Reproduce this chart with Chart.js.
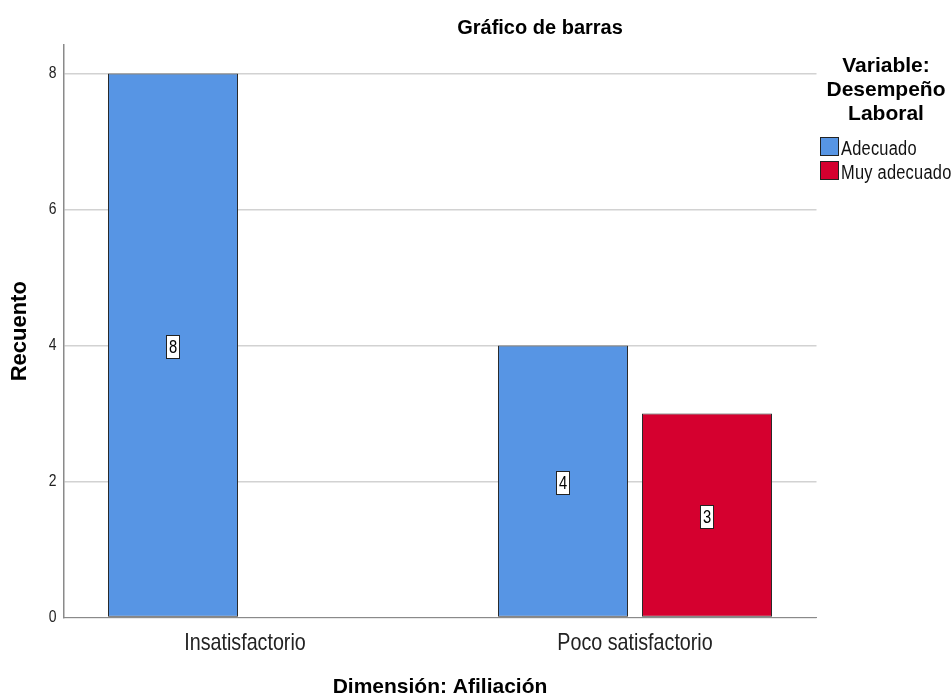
<!DOCTYPE html>
<html><head><meta charset="utf-8">
<script src="https://cdn.jsdelivr.net/npm/chart.js@4.4.1/dist/chart.umd.min.js"></script>
<style>
html,body{margin:0;padding:0;background:#fff;}
#wrap{position:relative;width:952px;height:698px;overflow:hidden;}
#title{position:absolute;left:390px;width:300px;top:15px;text-align:center;font:bold 20px/24px 'Liberation Sans',Arial,sans-serif;color:#000;}
.lt{position:absolute;left:806px;width:160px;top:53px;text-align:center;font:bold 21px/24px 'Liberation Sans',Arial,sans-serif;color:#000;}
.li{position:absolute;left:820px;height:24px;width:140px;font:20px/24px 'Liberation Sans',Arial,sans-serif;white-space:nowrap;color:#111;}
.li .sw{position:absolute;left:0;top:1px;width:17px;height:17px;border:1px solid #222;}
.li span{position:absolute;left:21px;top:0;transform:scaleX(0.82);transform-origin:0 0;letter-spacing:0.3px;}
</style></head><body>
<div id="wrap"><canvas id="c" width="952" height="698"></canvas><div id="title"></div><div id="legend"></div></div>
<script>
const chartTitle = 'Gráfico de barras';
const categories = ['Insatisfactorio', 'Poco satisfactorio'];
const seriesNames = ['Adecuado', 'Muy adecuado'];
const adecuado = [8, 4];
const muyAdecuado = [null, 3];
const yTicks = [0, 2, 4, 6, 8];
const legendTitle = ['Variable:', 'Desempeño', 'Laboral'];
const xTitle = 'Dimensión: Afiliación';
const yTitle = 'Recuento';
const colors = ['#5795e4', '#d5002f'];

// condensed text: drawn with Liberation Sans, squeezed horizontally (SPSS narrow look)
const NARROW = "'Liberation Sans', narrowfx";
const BOLD = "'Liberation Sans',Arial,sans-serif";
const SQUEEZE = 0.82;

document.getElementById('title').textContent = chartTitle;
const lg = document.getElementById('legend');
const lt = document.createElement('div'); lt.className = 'lt';
lt.innerHTML = legendTitle.map(s => '<div>' + s + '</div>').join('');
lg.appendChild(lt);
seriesNames.forEach((n, i) => {
  const row = document.createElement('div'); row.className = 'li';
  row.style.top = (136 + i * 24) + 'px';
  const sw = document.createElement('div'); sw.className = 'sw'; sw.style.background = colors[i];
  const sp = document.createElement('span'); sp.textContent = n;
  row.appendChild(sw); row.appendChild(sp); lg.appendChild(row);
});

const seriesValues = [adecuado, muyAdecuado];
const datasets = seriesNames.map((n, si) => ({
  label: n,
  data: categories.map((c, i) => ({ x: i, y: seriesValues[si][i] })),
  backgroundColor: colors[si],
  borderColor: '#2a2a2a',
  borderWidth: 1,
  borderSkipped: false,
  categoryPercentage: 0.7385,
  barPercentage: 0.9028
}));

const condensed = {
  id: 'condensed',
  beforeInit(chart) {
    const ctx = chart.ctx;
    const orig = ctx.fillText.bind(ctx);
    ctx.fillText = function (text, x, y, maxWidth) {
      if (String(ctx.font).indexOf('narrowfx') >= 0) {
        ctx.save();
        ctx.translate(x, y);
        ctx.scale(SQUEEZE, 1);
        orig(text, 0, 0);
        ctx.restore();
      } else if (maxWidth !== undefined) {
        orig(text, x, y, maxWidth);
      } else {
        orig(text, x, y);
      }
    };
  }
};

const valueLabels = {
  id: 'valueLabels',
  afterDatasetsDraw(chart) {
    const ctx = chart.ctx;
    chart.data.datasets.forEach((ds, di) => {
      const meta = chart.getDatasetMeta(di);
      meta.data.forEach((el, i) => {
        const v = ds.data[i].y;
        if (v == null) return;
        const p = el.getProps(['x', 'y', 'base'], true);
        const cx = Math.round(p.x), cy = Math.round((p.y + p.base) / 2) + 2;
        ctx.save();
        ctx.fillStyle = '#fff'; ctx.strokeStyle = '#222'; ctx.lineWidth = 1;
        ctx.fillRect(cx - 7, cy - 12, 14, 24);
        ctx.strokeRect(cx - 6.5, cy - 11.5, 13, 23);
        ctx.font = '18px ' + NARROW;
        ctx.fillStyle = '#000'; ctx.textAlign = 'center'; ctx.textBaseline = 'middle';
        ctx.fillText(String(v), cx, cy + 1);
        ctx.restore();
      });
    });
  }
};

new Chart(document.getElementById('c'), {
  type: 'bar',
  data: { datasets },
  plugins: [condensed, valueLabels],
  options: {
    responsive: false,
    animation: false,
    layout: { padding: { left: 0, top: 45, right: 135.5, bottom: 0 } },
    plugins: { legend: { display: false }, title: { display: false }, tooltip: { enabled: false } },
    scales: {
      x: {
        type: 'linear',
        offset: false,
        min: -0.4654, max: 1.4654,
        afterBuildTicks: s => { s.ticks = categories.map((c, i) => ({ value: i })); },
        afterFit: s => { s.height = 80.5; },
        grid: { display: false, drawTicks: false, offset: false },
        border: { display: true, color: '#8a8a8a', width: 1 },
        ticks: { callback: v => categories[v], font: { family: NARROW, size: 24 }, color: '#222', padding: 11, maxRotation: 0, autoSkip: false },
        title: { display: true, text: xTitle, font: { family: BOLD, size: 21, weight: 'bold', lineHeight: 1 }, color: '#000', padding: { top: 0, bottom: 0 } }
      },
      y: {
        min: 0, max: 8.42,
        afterBuildTicks: s => { s.ticks = yTicks.map(v => ({ value: v })); },
        afterFit: s => { s.width = 63.5; },
        grid: { color: '#d2d2d2', lineWidth: 1.5, drawTicks: false },
        border: { display: true, color: '#8a8a8a', width: 1.5 },
        ticks: { font: { family: NARROW, size: 17 }, color: '#222', padding: 7 },
        title: { display: true, text: yTitle, font: { family: BOLD, size: 22, weight: 'bold', lineHeight: 1 }, color: '#000', padding: { top: 9, bottom: 0 } }
      }
    }
  }
});
</script>
</body></html>
